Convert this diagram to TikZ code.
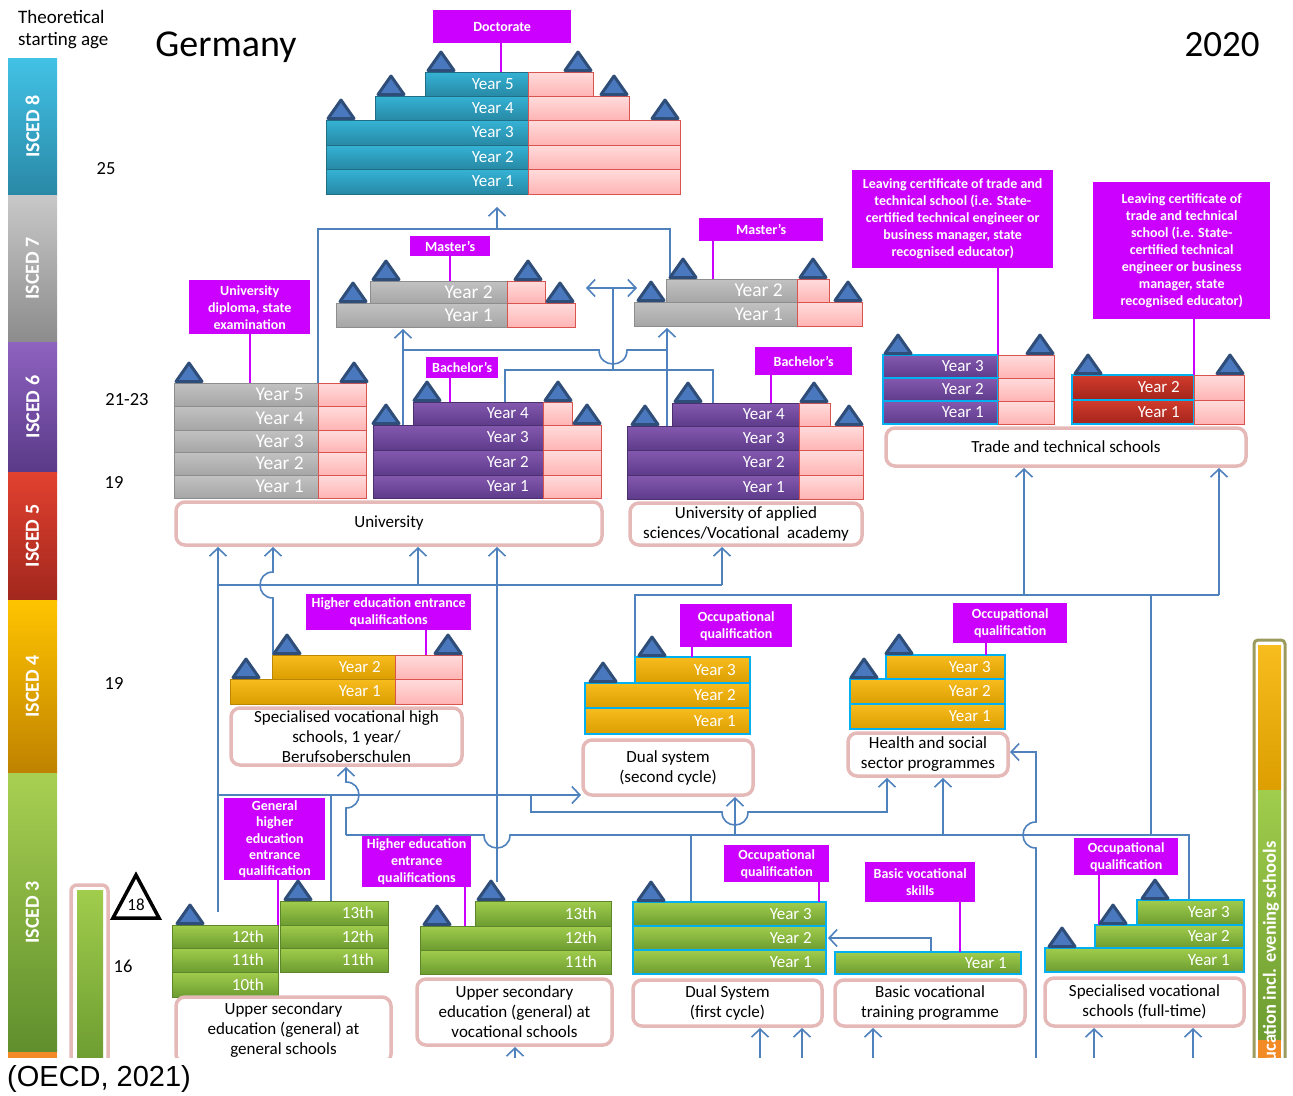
\documentclass[tikz,border=0pt]{standalone}
\usepackage{fontspec}
\setmainfont{Carlito}
\newfontfamily\oecdfont{Liberation Sans}
\usepackage{tikz}
\usetikzlibrary{arrows.meta}

\definecolor{lblmag}{HTML}{CC00FF}
\definecolor{flowblue}{HTML}{4F81BD}
\definecolor{boxline}{HTML}{E5B9B7}
\definecolor{cyanline}{HTML}{00B0F0}
\definecolor{trifill}{HTML}{4A78BE}
\definecolor{triline}{HTML}{2E4D78}
\definecolor{pinkT}{HTML}{FFDCDC}
\definecolor{pinkB}{HTML}{FFB4B4}
\definecolor{pinkline}{HTML}{D9534F}
\definecolor{tealT}{HTML}{35B3D6}
\definecolor{tealB}{HTML}{2789A5}
\definecolor{grayT}{HTML}{C2C2C2}
\definecolor{grayB}{HTML}{A6A6A6}
\definecolor{purT}{HTML}{8459AF}
\definecolor{purB}{HTML}{5E3B8B}
\definecolor{redT}{HTML}{D23C2D}
\definecolor{redB}{HTML}{A3241B}
\definecolor{yelT}{HTML}{F7BC1E}
\definecolor{yelB}{HTML}{DC9E00}
\definecolor{grnT}{HTML}{A0CD4C}
\definecolor{grnB}{HTML}{6D9C31}
\definecolor{iscTealT}{HTML}{42C2E6}
\definecolor{iscTealB}{HTML}{2A88A6}
\definecolor{iscGrayT}{HTML}{C8C8C8}
\definecolor{iscGrayB}{HTML}{8C8C8C}
\definecolor{iscPurT}{HTML}{8E62C0}
\definecolor{iscPurB}{HTML}{5A3A88}
\definecolor{iscRedT}{HTML}{E2412F}
\definecolor{iscRedB}{HTML}{A1271D}
\definecolor{iscYelT}{HTML}{FFC400}
\definecolor{iscYelB}{HTML}{BF8200}
\definecolor{iscGrnT}{HTML}{A8D052}
\definecolor{iscGrnB}{HTML}{5F8E2C}
\definecolor{iscorange}{HTML}{F28A25}
\definecolor{adultline}{HTML}{9C9B5E}

% one year of a programme: coloured part, then the pink part beside it
\newcommand{\yrrow}[8]{%
  \node[cell, #7, minimum width={#3-#2}, minimum height={#6-#5}] (#1) at (#2,#5) {};
  \node[pinkcell, minimum width={#4-#3}, minimum height={#6-#5}] (#1-p) at (#3,#5) {};
  \node[yeartext] (#1-t) at ([xshift=-14pt]#1.east) {#8};}
% one year with no pink part
\newcommand{\yrcell}[7]{%
  \node[cell, #6, minimum width={#3-#2}, minimum height={#5-#4}] (#1) at (#2,#4) {};
  \node[yeartext] (#1-t) at ([xshift=-14pt]#1.east) {#7};}

\begin{document}
\begin{tikzpicture}[x=1pt, y=-1pt,
    cell/.style={anchor=north west, inner sep=0pt, outer sep=0pt, line width=0.6pt},
    pinkcell/.style={cell, draw=pinkline, top color=pinkT, bottom color=pinkB},
    tealc/.style={draw=tealB!80!black, top color=tealT, bottom color=tealB},
    grayc/.style={draw=grayB!85!black, top color=grayT, bottom color=grayB},
    purc/.style={draw=purB!80!black, top color=purT, bottom color=purB},
    redc/.style={draw=redB!80!black, top color=redT, bottom color=redB},
    yelc/.style={draw=yelB!85!black, top color=yelT, bottom color=yelB},
    grnc/.style={draw=grnB!85!black, top color=grnT, bottom color=grnB},
    cyanedge/.style={draw=cyanline, line width=2.6pt},
    yeartext/.style={anchor=east, text=white, inner sep=0pt, font=\fontsize{17}{19}\selectfont},
    lbl/.style={anchor=north west, fill=lblmag, text=white, align=center, inner sep=1pt,
      font=\bfseries\fontsize{14}{17}\selectfont},
    school/.style={draw=boxline, line width=3.5pt, rounded corners=9pt, fill=white,
      align=center, inner sep=1pt, font=\fontsize{17}{20}\selectfont},
    stem/.style={draw=lblmag, line width=1.2pt},
    flow/.style={draw=flowblue, line width=1.6pt},
    arr/.style={flow, -{Straight Barb[length=8pt, width=17pt]}},
    darr/.style={flow, {Straight Barb[length=8pt, width=17pt]}-{Straight Barb[length=8pt, width=17pt]}},
    tri/.pic={\draw[fill=trifill, draw=triline, line width=3pt, line join=round]
      (-13,-1.5) -- (0,-20) -- (13,-1.5) -- cycle;},
    age/.style={font=\fontsize{18.5}{20}\selectfont},
    isced/.style={anchor=north west, inner sep=0pt, outer sep=0pt, minimum width=49}
  ]
  \useasboundingbox (0,0) rectangle (1293,1095);

  % headings
  \node[anchor=north west, align=left, inner sep=0pt, font=\fontsize{19}{22}\selectfont] (startage) at (18,10) {Theoretical\\starting age};
  \node[anchor=base, font=\fontsize{38}{42}\selectfont] (country) at (226,56) {Germany};
  \node[anchor=base, font=\fontsize{37}{42}\selectfont] (yeartitle) at (1222,56) {2020};
  \node[anchor=west, inner sep=0pt, font=\oecdfont\fontsize{29}{32}\selectfont] (source) at (7,1079) {(OECD, 2021)};

  % ages
  \node[age] (a25) at (106,169) {25};
  \node[age] (a21) at (127,400) {21-23};
  \node[age] (a19u) at (114,482) {19};
  \node[age] (a19p) at (114,683) {19};
  \node[age] (a16) at (123,966) {16};

  \begin{scope}
    \clip (0,0) rectangle (1293,1057);

    % draws ISCED levels
    \foreach \n/\yt/\yb/\ct/\cb in {8/58/195/iscTealT/iscTealB, 7/195/342/iscGrayT/iscGrayB,
        6/342/472/iscPurT/iscPurB, 5/472/600/iscRedT/iscRedB, 4/600/773/iscYelT/iscYelB,
        3/773/1052/iscGrnT/iscGrnB} {
      \node[isced, top color=\ct, bottom color=\cb, minimum height={\yb-\yt}] (isc\n) at (8,\yt) {};
      \node[rotate=90, text=white, font=\bfseries\fontsize{20}{22}\selectfont] (isc\n-t) at (isc\n.center) {ISCED \n};
    }
    \fill[iscorange] (8,1052) rectangle (57,1062);

    % draws paths between programmes
    \draw[flow] (318,383) -- (318,229) -- (670,229) -- (670,279);
    \draw[arr] (497,229) -- (497,207);
    \draw[arr] (403,425) -- (403,329);
    \draw[arr] (667,426) -- (667,328);
    \draw[flow] (403,350) -- (599,350) .. controls (599,368.7) and (627,368.7) .. (627,350) -- (667,350);
    \draw[flow] (505,402) -- (505,370) -- (713,370) -- (713,403);
    \draw[flow] (613,288) -- (613,370);
    \draw[darr] (586,288) -- (637,288);

    \draw[arr] (218,912) -- (218,547);
    \draw[flow] (218,585) -- (722,585);
    \draw[arr] (418,585) -- (418,547);
    \draw[arr] (722,585) -- (722,547);
    \draw[arr] (273,655) -- (273,598) .. controls (255.7,598) and (255.7,572) .. (273,572) -- (273,547);
    \draw[arr] (497,882) -- (497,547);

    \draw[flow] (635,657) -- (635,595) -- (1219,595);
    \draw[arr] (1024,595) -- (1024,468);
    \draw[arr] (1219,595) -- (1219,468);
    \draw[flow] (1151,835) -- (1151,595);

    \draw[arr] (218,795) -- (581,795);
    \draw[flow] (331,901) -- (331,795);
    \draw[arr] (531,795) -- (531,812) -- (722,812) .. controls (722,829.3) and (748,829.3) .. (748,812) -- (887,812) -- (887,778);
    \draw[arr] (346,835) -- (346,808) .. controls (363.3,808) and (363.3,782) .. (346,782) -- (346,767);
    \draw[flow] (346,835) -- (484,835) .. controls (484,852.3) and (510,852.3) .. (510,835) -- (1189,835) -- (1189,900);
    \draw[flow] (691,835) -- (691,902);
    \draw[arr] (735,835) -- (735,797);
    \draw[arr] (943,835) -- (943,778);
    \draw[arr] (1036,1062) -- (1036,848) .. controls (1018.7,848) and (1018.7,822) .. (1036,822) -- (1036,752) -- (1010,752);
    \draw[arr] (931,952) -- (931,938) -- (828,938);
    \foreach \sx/\sy in {515/1047, 760/1028, 802/1028, 873/1028, 1094/1028, 1193/1028}
      \draw[arr] (\sx,1062) -- (\sx,\sy);

    % draws labels of qualifications
    \node[lbl, minimum width=138, minimum height=33] (lDoc) at (433,10) {Doctorate};
    \node[lbl, minimum width=80, minimum height=20] (lMl) at (410,236) {Master's};
    \node[lbl, minimum width=124, minimum height=23] (lMr) at (699,218) {Master's};
    \node[lbl, minimum width=121, minimum height=54] (lUd) at (189,280) {University\\diploma, state\\examination};
    \node[lbl, minimum width=72, minimum height=21] (lBu) at (426,357) {Bachelor's};
    \node[lbl, minimum width=97, minimum height=28] (lBa) at (755,347) {Bachelor's};
    \node[lbl, minimum width=201, minimum height=98] (lT1) at (852,170) {Leaving certificate of trade and\\technical school (i.e. State-\\certified technical engineer or\\business manager, state\\recognised educator)};
    \node[lbl, minimum width=177, minimum height=137] (lT2) at (1093,182) {Leaving certificate of\\trade and technical\\school (i.e. State-\\certified technical\\engineer or business\\manager, state\\recognised educator)};
    \node[lbl, minimum width=165, minimum height=36] (lSh) at (306,594) {Higher education entrance\\qualifications};
    \node[lbl, minimum width=112, minimum height=43] (lDs) at (680,604) {Occupational\\qualification};
    \node[lbl, minimum width=114, minimum height=40] (lHs) at (953,603) {Occupational\\qualification};
    \node[lbl, minimum width=101, minimum height=82, font=\bfseries\fontsize{14}{16.2}\selectfont] (lGen) at (224,798) {General\\higher\\education\\entrance\\qualification};
    \node[lbl, minimum width=109, minimum height=51] (lVs) at (362,836) {Higher education\\entrance\\qualifications};
    \node[lbl, minimum width=105, minimum height=37] (lDf) at (724,845) {Occupational\\qualification};
    \node[lbl, minimum width=110, minimum height=40] (lBv) at (865,862) {Basic vocational\\skills};
    \node[lbl, minimum width=104, minimum height=37] (lSf) at (1074,838) {Occupational\\qualification};

    % draws doctorate
    \yrrow{d5}{425}{528}{593}{72}{96}{tealc}{Year 5}
    \yrrow{d4}{375}{528}{629}{96}{120}{tealc}{Year 4}
    \yrrow{d3}{326}{528}{680}{120}{145}{tealc}{Year 3}
    \yrrow{d2}{326}{528}{680}{145}{169}{tealc}{Year 2}
    \yrrow{d1}{326}{528}{680}{169}{194}{tealc}{Year 1}

    % draws grey programmes
    \begin{scope}[yeartext/.append style={font=\fontsize{19.5}{21}\selectfont}]
      \yrrow{ml2}{370}{507}{545}{281}{303}{grayc}{Year 2}
      \yrrow{ml1}{336}{507}{575}{303}{327}{grayc}{Year 1}
      \yrrow{mr2}{666}{797}{829}{279}{302}{grayc}{Year 2}
      \yrrow{mr1}{634}{797}{862}{302}{326}{grayc}{Year 1}
      \foreach \n/\yt/\yb in {5/383/406, 4/406/430, 3/430/452, 2/452/475, 1/475/498}
        {\yrrow{ud\n}{174}{318}{366}{\yt}{\yb}{grayc}{Year \n}}
    \end{scope}

    % draws bachelor's
    \yrrow{bu4}{413}{543}{572}{402}{425}{purc}{Year 4}
    \yrrow{bu3}{373}{543}{601}{425}{450}{purc}{Year 3}
    \yrrow{bu2}{373}{543}{601}{450}{475}{purc}{Year 2}
    \yrrow{bu1}{373}{543}{601}{475}{498}{purc}{Year 1}
    \yrrow{ba4}{672}{799}{830}{403}{426}{purc}{Year 4}
    \yrrow{ba3}{627}{799}{863}{426}{450}{purc}{Year 3}
    \yrrow{ba2}{627}{799}{863}{450}{475}{purc}{Year 2}
    \yrrow{ba1}{627}{799}{863}{475}{499}{purc}{Year 1}

    % draws trade and technical schools
    \yrrow{tp3}{883}{998}{1054}{355}{378}{purc,cyanedge}{Year 3}
    \yrrow{tp2}{883}{998}{1054}{378}{401}{purc,cyanedge}{Year 2}
    \yrrow{tp1}{883}{998}{1054}{401}{424}{purc,cyanedge}{Year 1}
    \yrrow{tr2}{1072}{1194}{1244}{375}{400}{redc,cyanedge}{Year 2}
    \yrrow{tr1}{1072}{1194}{1244}{400}{424}{redc,cyanedge}{Year 1}

    % draws post-secondary programmes
    \yrrow{sh2}{272}{395}{462}{655}{679}{yelc}{Year 2}
    \yrrow{sh1}{230}{395}{462}{679}{704}{yelc}{Year 1}
    \yrcell{ds3}{635}{750}{657}{683}{yelc,cyanedge}{Year 3}
    \yrcell{ds2}{585}{750}{683}{708}{yelc,cyanedge}{Year 2}
    \yrcell{ds1}{585}{750}{708}{734}{yelc,cyanedge}{Year 1}
    \yrcell{hs3}{886}{1005}{655}{679}{yelc,cyanedge}{Year 3}
    \yrcell{hs2}{850}{1005}{679}{704}{yelc,cyanedge}{Year 2}
    \yrcell{hs1}{850}{1005}{704}{729}{yelc,cyanedge}{Year 1}

    % draws upper secondary programmes
    \yrcell{gl12}{172}{278}{925}{948}{grnc}{12th}
    \yrcell{gl11}{172}{278}{948}{972}{grnc}{11th}
    \yrcell{gl10}{172}{278}{972}{997}{grnc}{10th}
    \yrcell{gr13}{280}{388}{901}{925}{grnc}{13th}
    \yrcell{gr12}{280}{388}{925}{948}{grnc}{12th}
    \yrcell{gr11}{280}{388}{948}{972}{grnc}{11th}
    \yrcell{vs13}{475}{611}{901}{926}{grnc}{13th}
    \yrcell{vs12}{420}{611}{926}{950}{grnc}{12th}
    \yrcell{vs11}{420}{611}{950}{974}{grnc}{11th}
    \yrcell{df3}{633}{826}{902}{926}{grnc,cyanedge}{Year 3}
    \yrcell{df2}{633}{826}{926}{950}{grnc,cyanedge}{Year 2}
    \yrcell{df1}{633}{826}{950}{974}{grnc,cyanedge}{Year 1}
    \yrcell{bv1}{835}{1021}{952}{974}{grnc,cyanedge}{Year 1}
    \yrcell{sf3}{1137}{1244}{900}{925}{grnc,cyanedge}{Year 3}
    \yrcell{sf2}{1095}{1244}{925}{948}{grnc,cyanedge}{Year 2}
    \yrcell{sf1}{1045}{1244}{948}{972}{grnc,cyanedge}{Year 1}

    % joins labels to their programmes
    \foreach \lname/\bname/\sx in {lDoc/d5/501, lMl/ml2/450, lMr/mr2/713, lUd/ud5/250,
        lBu/bu4/450, lBa/ba4/771, lT1/tp3/998, lT2/tr2/1194, lSh/sh2/426, lDs/ds3/692,
        lHs/hs3/986, lGen/gl12/278, lVs/vs12/465, lDf/df3/819, lBv/bv1/960, lSf/sf2/1099}
      \draw[stem] (\lname.south -| \sx,0) -- (\bname.north -| \sx,0);

    % draws end-of-level marks
    \foreach \tx/\ty in {441/72, 578/72, 391/96, 614/96, 341/120, 665/120,
        386/281, 528/281, 353/303, 560/303, 683/279, 813/279, 651/302, 848/302,
        189/383, 354/383, 427/402, 558/402, 386/425, 587/425,
        688/403, 814/403, 645/426, 849/426, 898/355, 1040/355, 1088/375, 1230/375,
        287/655, 448/655, 246/679, 652/657, 603/683, 899/655, 864/679,
        190/925, 298/901, 437/926, 491/901, 651/902, 1062/948, 1113/925, 1155/900}
      \pic at (\tx,\ty) {tri};

    % draws programme boxes
    \node[school, minimum width=426, minimum height=43] (bUni) at (389,523.5) {University};
    \node[school, minimum width=232, minimum height=42] (bApp) at (746,524) {University of applied\\sciences/Vocational~~academy};
    \node[school, minimum width=360, minimum height=38] (bTrade) at (1066,447) {Trade and technical schools};
    \node[school, minimum width=231, minimum height=57] (bSh) at (346.5,736.5) {Specialised vocational high\\schools, 1 year/\\Berufsoberschulen};
    \node[school, minimum width=170, minimum height=55] (bDs) at (668,767.5) {Dual system\\(second cycle)};
    \node[school, minimum width=160, minimum height=43] (bHs) at (928,754.5) {Health and social\\sector programmes};
    \node[school, minimum width=215, minimum height=66] (bGen) at (283.5,1030) {Upper secondary\\education (general) at\\general schools};
    \node[school, minimum width=195, minimum height=66] (bVs) at (514.5,1012) {Upper secondary\\education (general) at\\vocational schools};
    \node[school, minimum width=189, minimum height=46] (bDf) at (727.5,1003) {Dual System\\(first cycle)};
    \node[school, minimum width=190, minimum height=46] (bBv) at (930,1003) {Basic vocational\\training programme};
    \node[school, minimum width=199, minimum height=48] (bSf) at (1144.5,1002) {Specialised vocational\\schools (full-time)};

    % draws side bars
    \draw[boxline, line width=3.5pt, rounded corners=6pt, fill=white] (71,885) rectangle (108,1075);
    \shade[top color=grnT, bottom color=grnB] (77,890) rectangle (103,1062);
    \draw[black, line width=3.5pt, fill=white] (113,918) -- (136,875) -- (159,918) -- cycle;
    \node[font=\fontsize{17}{18}\selectfont] (t18) at (136,905) {18};

    \draw[adultline, line width=3pt, rounded corners=4pt, fill=white] (1254,640) rectangle (1285,1075);
    \shade[top color=yelT, bottom color=yelB] (1258,645) rectangle (1281,790);
    \shade[top color=grnT, bottom color=grnB] (1258,790) rectangle (1281,1040);
    \fill[iscorange] (1258,1040) rectangle (1281,1062);
    \node[rotate=90, anchor=east, text=white, font=\bfseries\fontsize{18.5}{20}\selectfont] (adult) at (1271,838) {Education incl. evening schools};
  \end{scope}
\end{tikzpicture}
\end{document}
